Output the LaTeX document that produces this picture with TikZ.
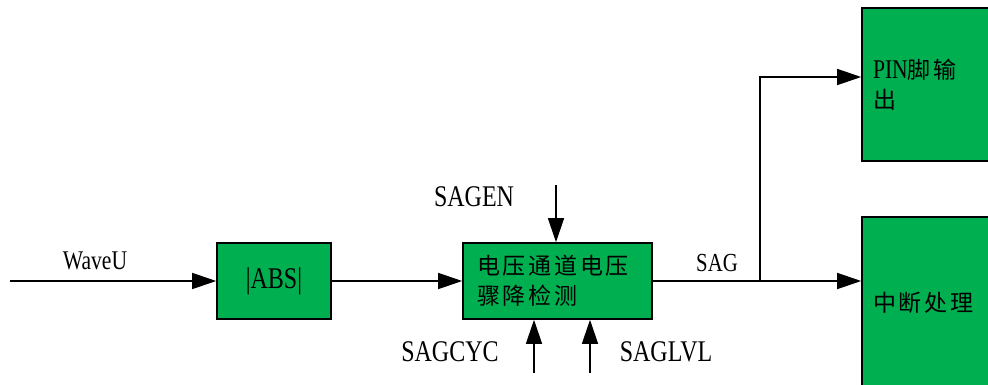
\documentclass[tikz,border=0pt]{standalone}
\usepackage{fontspec}
\setmainfont[FakeStretch=0.8]{Liberation Serif}
\newfontfamily\cjk[LetterSpace=12]{Noto Sans CJK SC}
\usetikzlibrary{arrows.meta}
\definecolor{boxgreen}{RGB}{0,176,80}
\tikzset{
  box/.style={draw=black, line width=1.6pt, fill=boxgreen, inner sep=0pt},
  conn/.style={line width=1.4pt, draw=black},
  arr/.style={conn, -{Triangle[length=24pt, width=16pt]}},
  lab/.style={inner sep=0pt, font=\fontsize{30}{30}\selectfont},
  cjkt/.style={font=\cjk\fontsize{23}{30}\selectfont}
}
\begin{document}
\begin{tikzpicture}[x=1pt, y=-1pt]
\clip (0,0) rectangle (988,385);
\fill[white] (0,0) rectangle (988,385);
% boxes
\node[box, minimum width=114pt, minimum height=76pt, lab] (abs) at (274,281) {|ABS|};
\node[box, text width=161pt, inner xsep=14pt, minimum height=76pt, align=left, cjkt] (det) at (557.5,281) {电压通道电压\\骤降检测};
\node[box, text width=116pt, inner xsep=11pt, minimum height=153pt, align=left, cjkt] (pin) at (931,84.5) {{\rmfamily\fontsize{27}{30}\selectfont PIN}脚输\\出};
\node[box, text width=116pt, inner xsep=11pt, minimum height=172pt, align=left, cjkt] (int) at (931,303) {中断处理};
% free ends
\coordinate (win) at (10,281);
\coordinate (en) at (556,185);
\coordinate (cyc) at (534,373);
\coordinate (lvl) at (590,373);
\coordinate (br) at (760,281);
% connectors
\draw[arr] (win) -- (abs.west);
\draw[arr] (abs.east) -- (det.west);
\draw[arr] (en) -- (en |- det.north);
\draw[arr] (cyc) -- (cyc |- det.south);
\draw[arr] (lvl) -- (lvl |- det.south);
\draw[arr] (det.east) -- (int.west |- det.east);
\draw[arr] (br) |- ([yshift=7.5pt]pin.west);
% labels
\node[lab, font=\fontsize{27}{27}\selectfont] (lwave) at (95,261) {WaveU};
\node[lab] (len) at (474,197) {SAGEN};
\node[lab] (lcyc) at (450,352) {SAGCYC};
\node[lab] (llvl) at (666,352) {SAGLVL};
\node[lab, font=\fontsize{26}{26}\selectfont] (lsag) at (717,263) {SAG};
\end{tikzpicture}
\end{document}
